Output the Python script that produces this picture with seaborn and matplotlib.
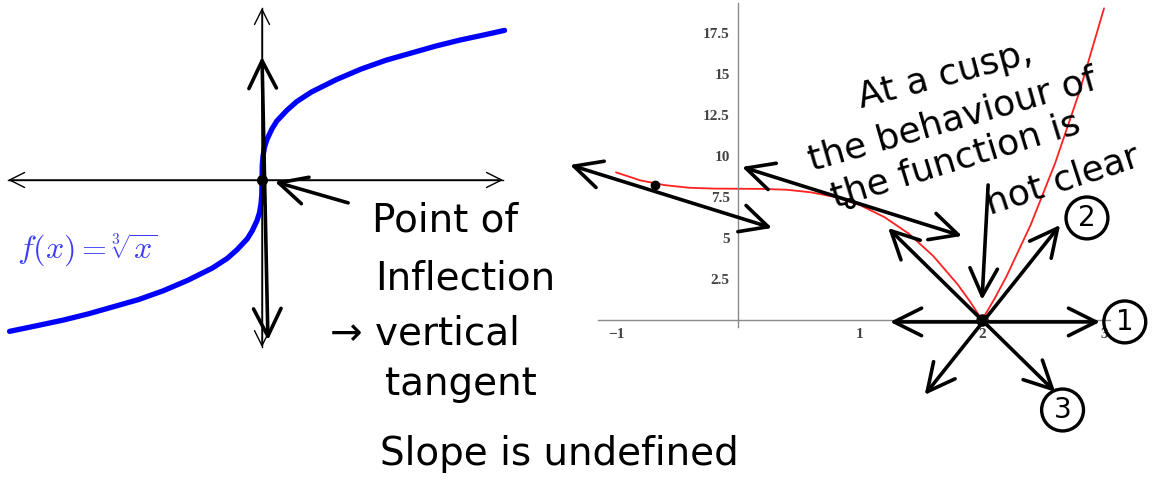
import numpy as np
import matplotlib
matplotlib.use("Agg")
import matplotlib.pyplot as plt
import seaborn as sns

sns.set_style("white")
plt.rcParams['font.family'] = ['DejaVu Sans']
plt.rcParams['mathtext.fontset'] = 'cm'

# left panel: f(x) = cube root of x
cbrt_x = [-5.1, -4.5, -4, -3.5, -3, -2.5, -2, -1.5, -1, -0.7, -0.5, -0.3, -0.2, -0.1,
          -0.05, -0.02, -0.005, 0, 0.005, 0.02, 0.05, 0.1, 0.2, 0.3, 0.5, 0.7, 1,
          1.5, 2, 2.5, 3, 3.5, 4, 4.5, 4.9]
cbrt_y = [-1.72, -1.65, -1.59, -1.52, -1.44, -1.36, -1.26, -1.14, -1.0, -0.89, -0.79,
          -0.67, -0.58, -0.46, -0.37, -0.27, -0.17, 0, 0.17, 0.27, 0.37, 0.46, 0.58,
          0.67, 0.79, 0.89, 1.0, 1.14, 1.26, 1.36, 1.44, 1.52, 1.59, 1.65, 1.70]

# right panel: curve with a cusp at x = 2
cusp_x = [-1, -0.8, -0.6, -0.4, -0.2, 0, 0.2, 0.4, 0.6, 0.8, 1.0, 1.2, 1.4, 1.6,
          1.8, 1.9, 2.0, 2.1, 2.2, 2.4, 2.6, 2.8, 3.0]
cusp_y = [9.0, 8.51, 8.22, 8.06, 8.01, 8.0, 7.99, 7.94, 7.78, 7.49, 7.0, 6.27, 5.26,
          3.90, 2.17, 1.14, 0, 1.26, 2.65, 5.82, 9.58, 13.95, 19.0]

cusp_xticks = [-1, 1, 2, 3]
cusp_xticklabels = ['\u22121', '1', '2', '3']
cusp_yticks = [2.5, 5, 7.5, 10, 12.5, 15, 17.5]
cusp_yticklabels = ['2.5', '5', '7.5', '10', '12.5', '15', '17.5']

fig = plt.figure(figsize=(11.62, 4.8), dpi=100)
ax1 = fig.add_axes([0, 0, 520 / 1162, 1])
ax2 = fig.add_axes([560 / 1162, 0, 602 / 1162, 1])
for ax in (ax1, ax2):
    ax.set_facecolor('none')
    ax.spines['top'].set_visible(False)
    ax.spines['right'].set_visible(False)
    ax.spines['left'].set_position(('data', 0))
    ax.spines['bottom'].set_position(('data', 0))


def hand_arrow(ax, start, end, style='<->', lw=2.6, scale=22):
    ax.annotate('', xy=end, xytext=start, annotation_clip=False,
                arrowprops=dict(arrowstyle=f'{style},head_length=0.9,head_width=0.45',
                                lw=lw, color='black', shrinkA=0, shrinkB=0,
                                mutation_scale=scale))


hand = dict(fontsize=28, color='black', family=['DejaVu Sans'], clip_on=False)

# ---- left: cube root ----
ax1.set_xlim(-5.293, 5.212)
ax1.set_ylim(-3.409, 2.045)
ax1.spines['bottom'].set_bounds(-5.13, 4.87)
ax1.spines['left'].set_bounds(-1.90, 1.955)
ax1.set_xticks([-4, -3, -2, -1, 1, 2, 3, 4])
ax1.set_yticks([-1, 1])
ax1.set_xticklabels([])
ax1.set_yticklabels([])
ax1.tick_params(direction='out', length=6, width=1, color='black')
for s in ('left', 'bottom'):
    ax1.spines[s].set_color('black')
    ax1.spines[s].set_linewidth(1)
hand_arrow(ax1, (-5.13, 0), (4.87, 0), lw=1, scale=12)
hand_arrow(ax1, (0, -1.90), (0, 1.955), lw=1, scale=12)

sns.lineplot(x=cbrt_x, y=cbrt_y, ax=ax1, color='#0000ff', lw=3.8,
             estimator=None, sort=False)
ax1.text(-4.95, -0.80, r'$f(x) = \sqrt[3]{x}$', color='#3b3bff', fontsize=23,
         va='center', ha='left')

# vertical tangent + inflection point
hand_arrow(ax1, (0.12, -1.82), (0.0, 1.40))
ax1.plot([0], [0], 'o', color='black', ms=7)
hand_arrow(ax1, (1.74, -0.26), (0.26, -0.02), style='->')
ax1.text(2.22, -0.59, 'Point of', **hand)
ax1.text(2.28, -1.25, 'Inflection', **hand)
ax1.text(1.37, -1.87, '\u2192 vertical', **hand)
ax1.text(2.48, -2.44, 'tangent', **hand)
ax1.text(2.38, -3.24, 'Slope is undefined', **hand)

# ---- right: cusp ----
ax2.set_xlim(-1.459, 3.475)
ax2.set_ylim(-9.76, 19.51)
ax2.spines['bottom'].set_bounds(-1.15, 3.05)
ax2.spines['left'].set_bounds(-0.4, 19.3)
for s in ('left', 'bottom'):
    ax2.spines[s].set_color('#8a8a8a')
    ax2.spines[s].set_linewidth(1)
ax2.set_xticks(cusp_xticks)
ax2.set_xticklabels(cusp_xticklabels)
ax2.set_yticks(cusp_yticks)
ax2.set_yticklabels(cusp_yticklabels)
ax2.set_xticks(np.arange(-1.0, 3.01, 0.2), minor=True)
ax2.set_yticks(np.arange(0.5, 19.01, 0.5), minor=True)
ax2.tick_params(which='major', direction='in', length=4, width=1, color='#8a8a8a',
                labelsize=11, labelcolor='#444444', pad=6)
ax2.tick_params(which='minor', direction='in', length=2.5, width=0.8, color='#8a8a8a')
for lab in ax2.get_xticklabels() + ax2.get_yticklabels():
    lab.set_family(['Liberation Serif'])
    lab.set_fontweight('bold')

sns.lineplot(x=cusp_x, y=cusp_y, ax=ax2, color='#ff2020', lw=1.3,
             estimator=None, sort=False)

# tangents drawn by hand
hand_arrow(ax2, (-1.377, 9.45), (0.279, 5.61))
ax2.plot([-0.68], [8.23], 'o', color='black', ms=6)
hand_arrow(ax2, (0.033, 9.33), (1.836, 5.12))
ax2.plot([0.918], [7.13], 'o', color='black', ms=6, mfc='none', mew=2)

# lines through the cusp
ax2.plot([2.0], [0], 'o', color='black', ms=8)
hand_arrow(ax2, (2.60, -4.39), (1.23, 5.61))
hand_arrow(ax2, (1.53, -4.57), (2.64, 5.79))
hand_arrow(ax2, (1.246, -0.12), (2.967, -0.12))
hand_arrow(ax2, (2.05, 8.23), (2.0, 1.22), style='->')

circ = dict(fontsize=20, color='black', ha='center', va='center', clip_on=False,
            bbox=dict(boxstyle='circle,pad=0.25', fc='none', ec='black', lw=2.4))
ax2.text(3.17, -0.12, '1', **circ)
ax2.text(2.86, 6.22, '2', **circ)
ax2.text(2.66, -5.49, '3', **circ)

rot = dict(fontsize=26, color='black', ha='center', va='center', clip_on=False,
           family=['DejaVu Sans'], rotation_mode='anchor')
ax2.text(1.70, 14.94, 'At a cusp,', rotation=15, **rot)
ax2.text(1.76, 12.2, 'the behaviour of', rotation=16, **rot)
ax2.text(1.78, 9.76, 'the function is', rotation=17, **rot)
ax2.text(2.66, 8.54, 'not clear', rotation=18, **rot)

fig.savefig('out.png', dpi=100)
